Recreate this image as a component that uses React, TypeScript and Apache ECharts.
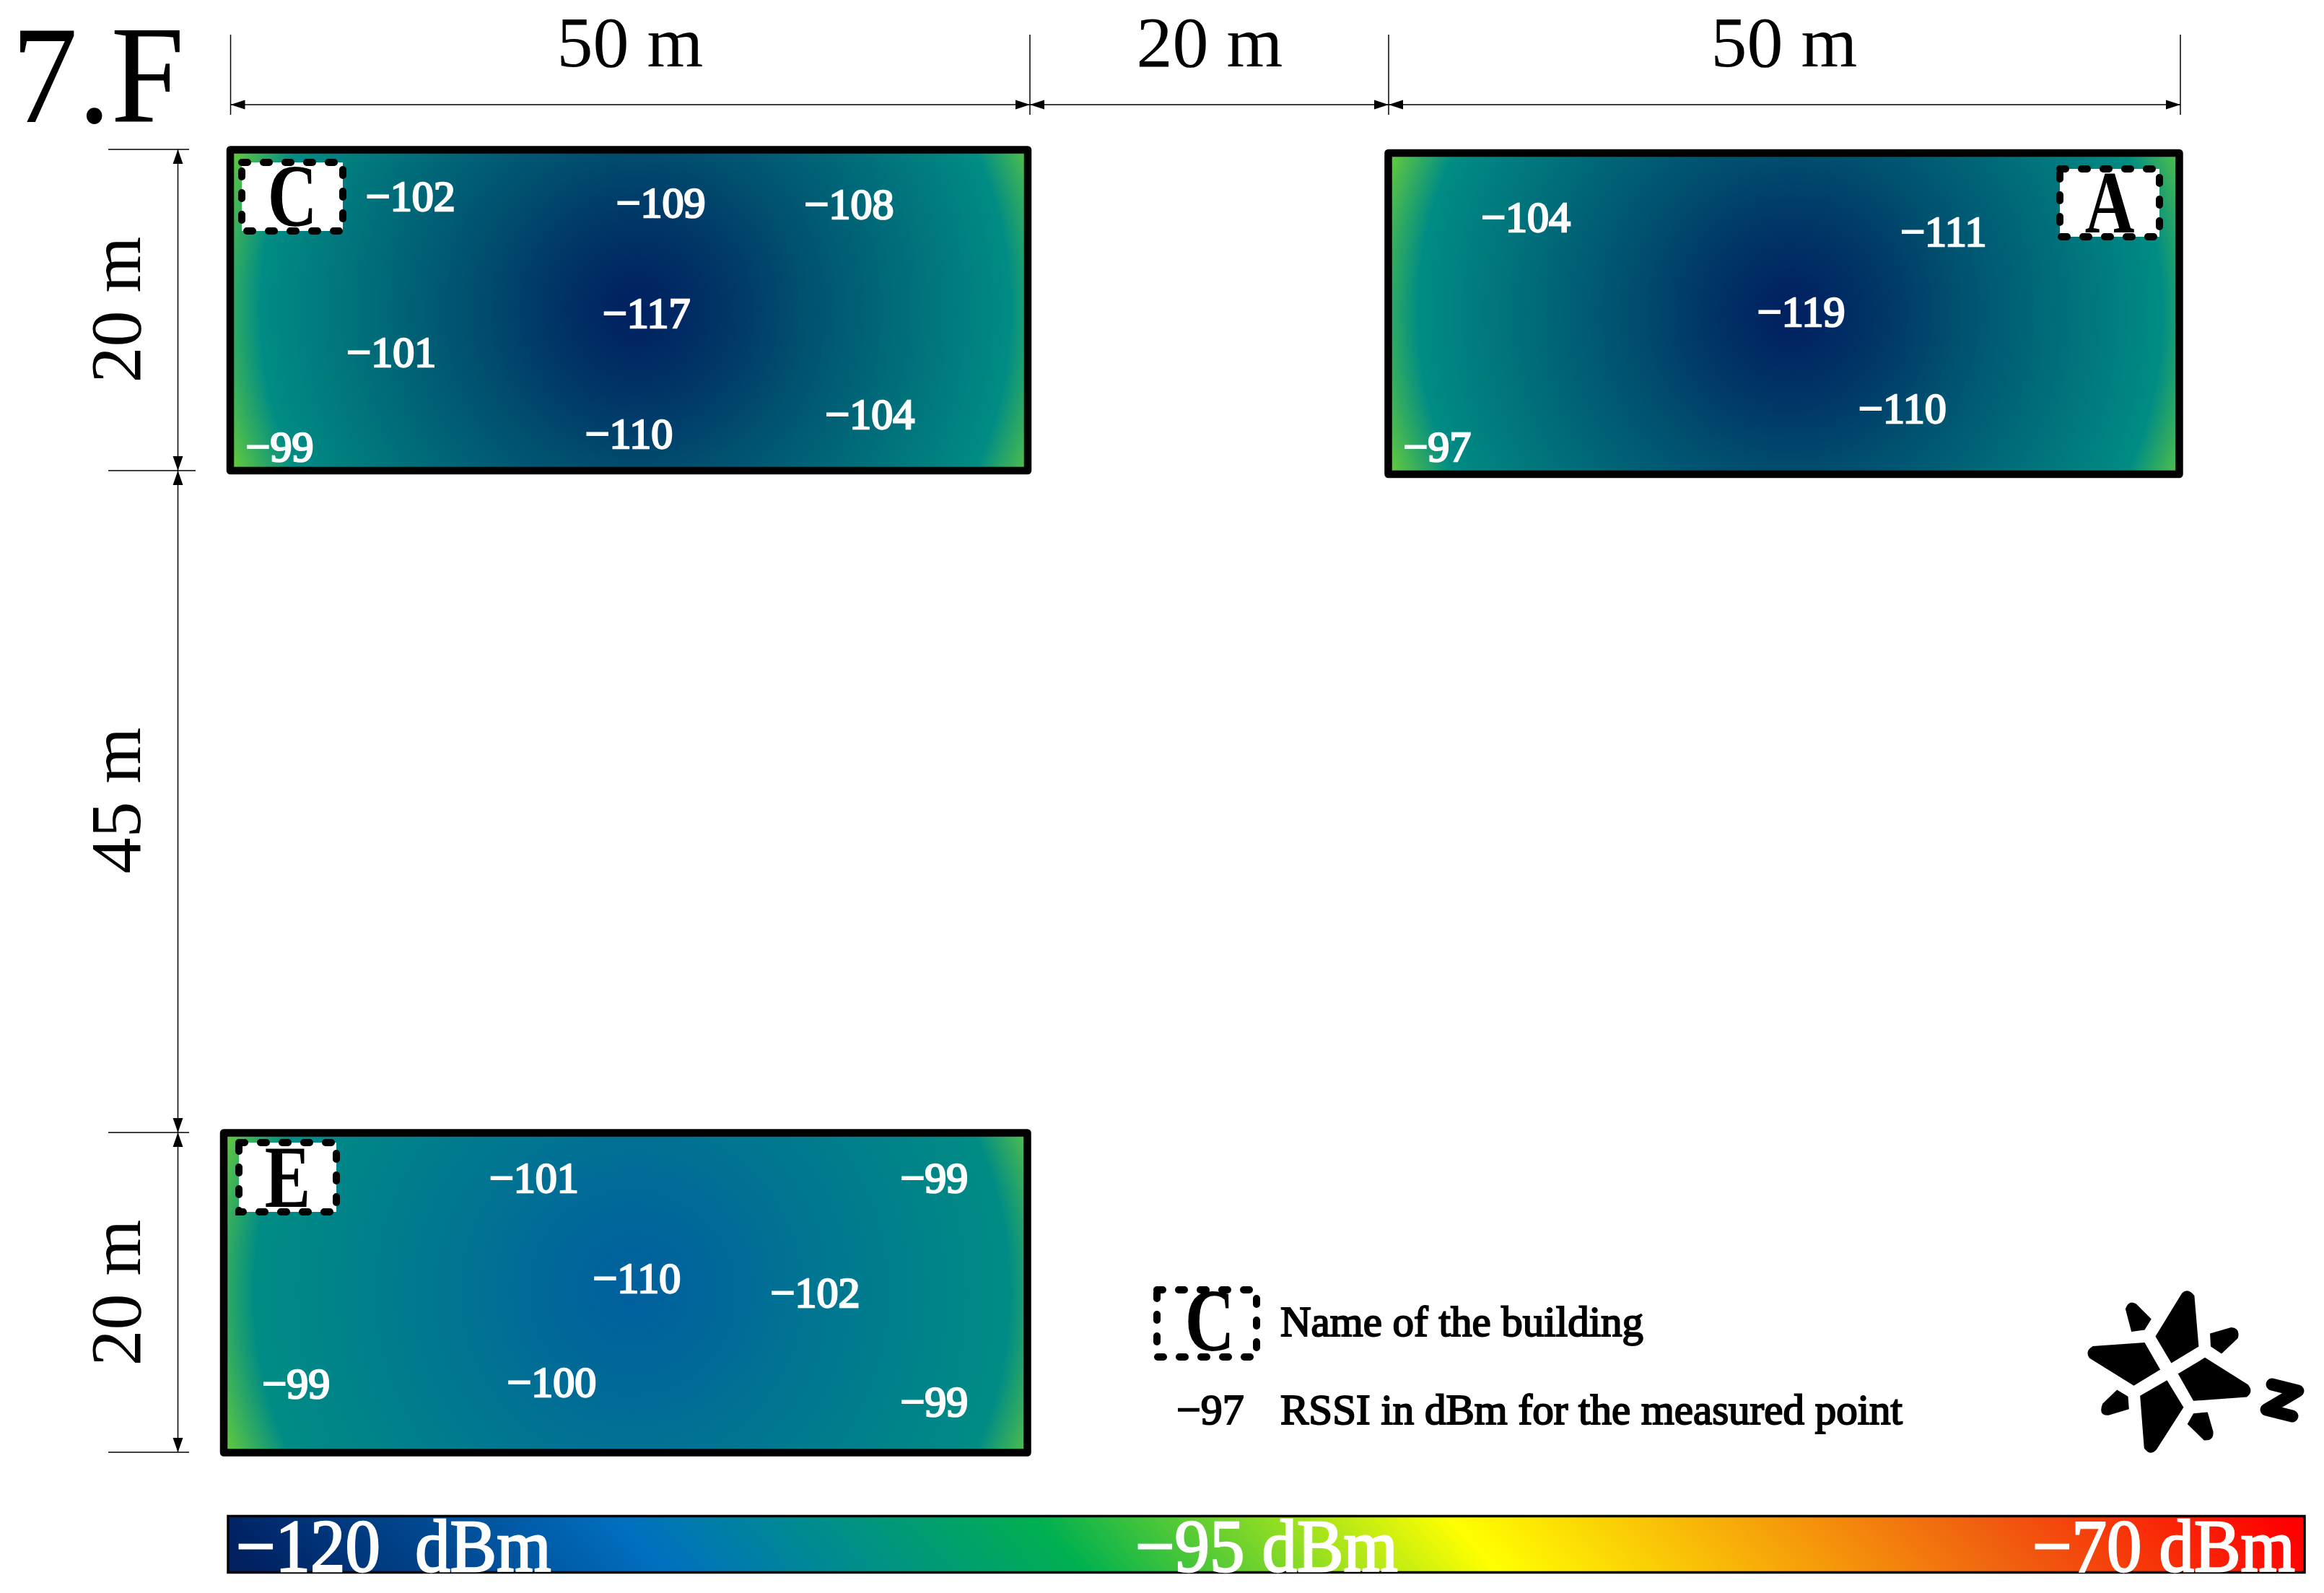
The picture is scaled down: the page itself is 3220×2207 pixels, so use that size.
import React, { useEffect, useRef } from "react";
import * as echarts from "echarts";

// ---- data (metres within each 50 m x 20 m building, RSSI in dBm) ----
const pointsC = [
  [11.3, 17.1, -102], [27.0, 16.7, -109], [38.8, 16.6, -108], [26.1, 9.8, -117],
  [10.1, 7.4, -101], [25.0, 2.3, -110], [40.1, 3.5, -104], [3.1, 1.5, -99],
];
const pointsA = [
  [8.7, 16.0, -104], [35.1, 15.1, -111], [26.1, 10.1, -119], [32.5, 4.1, -110], [3.1, 1.7, -97],
];
const pointsE = [
  [19.3, 17.2, -101], [44.2, 17.2, -99], [25.7, 10.9, -110], [36.8, 10.0, -102],
  [4.5, 4.3, -99], [20.4, 4.4, -100], [44.2, 3.2, -99],
];
const buildingNames = ["C", "A", "E"];
const widthLabels = ["50 m", "20 m", "50 m"];
const depthLabels = ["20 m", "45 m", "20 m"];
const scaleLabels = ["−120\u00A0\u00A0dBm", "−95 dBm", "−70 dBm"];
const legendLabels = ["Name of the building", "RSSI in dBm for the measured point"];

const FONT = "Liberation Serif";
const NAVY = "#002060";
const MIDBLUE = "#00609E";
const TEAL = "#008C84";
const GREEN = "#60C840";

const COMPASS_D =
  "M620 305 L730 125 Q755 100 782 135 L800 347 L686 416 Z " +
  "M575 330 L640 443 L530 510 L345 395 Q325 365 360 345 Z " +
  "M668 487 L737 600 L625 775 Q600 805 573 770 L556 552 Z " +
  "M826 393 L1005 505 Q1030 535 1000 557 L778 573 L714 460 Z " +
  "M495 190 Q510 150 540 170 L603 233 L575 278 L520 285 Z " +
  "M847 293 L935 267 Q975 270 963 312 L895 377 L850 347 Z " +
  "M460 527 L506 555 L510 607 L425 633 Q380 635 400 585 Z " +
  "M778 625 L837 620 L860 700 Q865 740 822 737 L753 670 Z";
echarts.graphic.registerShape("compass", echarts.graphic.extendPath(COMPASS_D, {}));

const Z_TOP = 100;
const thin = { stroke: "#000", lineWidth: 1.5 };

function line(x1: number, y1: number, x2: number, y2: number, lw = 1.5) {
  return { type: "line", z: Z_TOP, shape: { x1, y1, x2, y2 }, style: { ...thin, lineWidth: lw } };
}
function tri(points: number[][]) {
  return { type: "polygon", z: Z_TOP, shape: { points }, style: { fill: "#000" } };
}
function hDim(x0: number, x1: number, y: number) {
  const L = 20, H = 6.5;
  return [
    line(x0, y, x1, y),
    tri([[x0, y], [x0 + L, y - H], [x0 + L, y + H]]),
    tri([[x1, y], [x1 - L, y - H], [x1 - L, y + H]]),
  ];
}
function vDim(y0: number, y1: number, x: number) {
  const L = 20, H = 7;
  return [
    line(x, y0, x, y1),
    tri([[x, y0], [x - H, y0 + L], [x + H, y0 + L]]),
    tri([[x, y1], [x - H, y1 - L], [x + H, y1 - L]]),
  ];
}
// central text
function txt(text: string, x: number, y: number, size: number, extra: any = {}, style: any = {}) {
  return {
    type: "text", z: Z_TOP + 1, x, y, ...extra,
    style: {
      text, fill: style.fill || "#000", font: `${style.weight || "normal"} ${size}px "${FONT}"`,
      textAlign: style.align || "center", textVerticalAlign: "middle",
      ...(style.stroke ? { stroke: style.stroke, lineWidth: style.lw || 1 } : {}),
    },
  };
}
// text placed by its baseline
function baseTxt(text: string, x: number, baseline: number, size: number, extra: any = {}, style: any = {}) {
  return txt(text, x, baseline - 0.3375 * size, size, extra, { align: "left", ...style });
}
function nameBox(name: string, x0: number, y0: number, x1: number, y1: number, dx = 0, dy = 0) {
  return [
    {
      type: "rect", z: Z_TOP, shape: { x: x0, y: y0, width: x1 - x0, height: y1 - y0 },
      style: { fill: "#fff", stroke: "#000", lineWidth: 10, lineDash: [8, 22], lineCap: "round" },
    },
    txt(name, (x0 + x1) / 2 + dx, (y0 + y1) / 2 + dy, 122, { scaleX: 0.78 }, { weight: "bold" }),
  ];
}

const grids = [
  { left: 319, top: 207.5, width: 1105, height: 444.5 },
  { left: 1923.5, top: 212, width: 1096, height: 445 },
  { left: 310, top: 1569.5, width: 1113.5, height: 443 },
];

function heatSeries(gridIndex: number, data: number[][], coreColor: string) {
  const minPoint = data.reduce((a, b) => (b[2] < a[2] ? b : a));
  const base = new echarts.graphic.RadialGradient(0.5, 0.5, 0.5, [
    { offset: 0, color: coreColor },
    { offset: 0.81, color: TEAL },
    { offset: 0.93, color: GREEN },
    { offset: 1, color: GREEN },
  ]);
  const core = new echarts.graphic.RadialGradient(0.5, 0.5, 0.5, [
    { offset: 0, color: coreColor },
    { offset: 1, color: coreColor + "00" },
  ]);
  return {
    type: "custom", xAxisIndex: gridIndex, yAxisIndex: gridIndex, coordinateSystem: "cartesian2d",
    clip: true, silent: true, z: 2,
    data: [[25.4, 10, minPoint[0], minPoint[1]]],
    encode: { x: 0, y: 1 },
    renderItem: (_p: any, api: any) => {
      const c = api.coord([api.value(0), api.value(1)]);
      const k = api.coord([api.value(2), api.value(3)]);
      const R = api.size([29, 0])[0];
      const r = api.size([10, 0])[0];
      return {
        type: "group",
        children: [
          { type: "rect", shape: { x: c[0] - R, y: c[1] - R, width: 2 * R, height: 2 * R }, style: { fill: base } },
          { type: "rect", shape: { x: k[0] - r, y: k[1] - r, width: 2 * r, height: 2 * r }, style: { fill: core, opacity: 0.3 } },
        ],
      };
    },
  };
}
function frameSeries(gridIndex: number) {
  return {
    type: "custom", xAxisIndex: gridIndex, yAxisIndex: gridIndex, coordinateSystem: "cartesian2d",
    clip: false, silent: true, z: 4,
    data: [[0, 20]],
    encode: { x: 0, y: 1 },
    renderItem: (_p: any, api: any) => {
      const c = api.coord([api.value(0), api.value(1)]);
      const s = api.size([50, 20]);
      return {
        type: "rect", shape: { x: c[0], y: c[1], width: s[0], height: s[1] },
        style: { fill: "none", stroke: "#000", lineWidth: 10.5, lineJoin: "round" },
      };
    },
  };
}
function pointSeries(gridIndex: number, data: number[][]) {
  return {
    type: "scatter", xAxisIndex: gridIndex, yAxisIndex: gridIndex, z: 6, silent: true,
    symbolSize: 1, itemStyle: { color: "transparent", opacity: 1 }, data,
    label: {
      show: true, position: "inside", offset: [0, -2], color: "#fff", fontFamily: FONT, fontSize: 60, fontWeight: "normal",
      textBorderColor: "#fff", textBorderWidth: 2.5, opacity: 1,
      formatter: (p: any) => "−" + Math.abs(p.value[2]),
    },
    labelLayout: { hideOverlap: false },
  };
}

function buildOption() {
  const graphic: any[] = [];
  // floor label
  graphic.push(baseTxt("7.F", 16, 169, 193, { scaleX: 0.95 }));
  // horizontal dimensions
  graphic.push(...hDim(319.5, 1427, 145), ...hDim(1427, 1924, 145), ...hDim(1924, 3021, 145));
  [319.5, 1427, 1924, 3021].forEach((x) => graphic.push(line(x, 48, x, 159)));
  graphic.push(txt(widthLabels[0], 873, 58, 100), txt(widthLabels[1], 1676, 58, 100), txt(widthLabels[2], 2472, 58, 100));
  // vertical dimensions
  graphic.push(...vDim(207, 652, 246.5), ...vDim(652, 1569, 246.5), ...vDim(1569, 2012, 246.5));
  graphic.push(line(150, 207, 262, 207), line(150, 652, 271, 652), line(150, 1569, 262, 1569), line(150, 2012, 262, 2012));
  const rot = { rotation: Math.PI / 2 };
  graphic.push(txt(depthLabels[0], 160, 429, 100, rot), txt(depthLabels[1], 160, 1109, 100, rot), txt(depthLabels[2], 160, 1791, 100, rot));
  // building names
  graphic.push(...nameBox(buildingNames[0], 335, 225, 475, 320));
  graphic.push(...nameBox(buildingNames[1], 2854, 234, 2992, 328));
  graphic.push(...nameBox(buildingNames[2], 331, 1583, 466, 1679));
  // legend
  graphic.push(...nameBox("C", 1603, 1787, 1741, 1880, 4, -3));
  const heavy = { stroke: "#000", lw: 2 };
  graphic.push(baseTxt(legendLabels[0], 1774, 1851, 59, {}, heavy));
  graphic.push(baseTxt(legendLabels[1], 1774, 1973, 59, {}, heavy));
  graphic.push(baseTxt("−97", 1630, 1973, 60, {}, heavy));
  // compass
  graphic.push({
    type: "compass", z: Z_TOP, x: 2780, y: 1750, scaleX: 1 / 3, scaleY: 1 / 3, style: { fill: "#000" },
  });
  graphic.push({
    type: "polyline", z: Z_TOP,
    shape: { points: [[3148, 1918], [3184, 1927], [3140, 1953], [3176, 1962]] },
    style: { fill: "none", stroke: "#000", lineWidth: 17, lineCap: "round", lineJoin: "round" },
  });
  // colour bar
  graphic.push({
    type: "rect", z: Z_TOP, shape: { x: 316, y: 2100.5, width: 2877, height: 78 },
    style: {
      stroke: "#000", lineWidth: 3.5,
      fill: new echarts.graphic.LinearGradient(0, 0.512, 1, 0.488, [
        { offset: 0, color: "#002060" }, { offset: 0.2, color: "#0070C0" },
        { offset: 0.4, color: "#00B050" }, { offset: 0.6, color: "#FFFF00" },
        { offset: 0.85, color: "#F06010" }, { offset: 1, color: "#FF0000" },
      ]),
    },
  });
  const white = { fill: "#fff", stroke: "#fff", lw: 2.5 };
  const squeeze = { scaleX: 0.94 };
  graphic.push(baseTxt(scaleLabels[0], 327, 2177, 103, squeeze, white));
  graphic.push(baseTxt(scaleLabels[1], 1573, 2177, 103, squeeze, white));
  graphic.push(baseTxt(scaleLabels[2], 2816, 2177, 103, squeeze, white));

  const axes = grids.map((_, i) => i);
  return {
    animation: false,
    backgroundColor: "#fff",
    grid: grids.map((g) => ({ ...g, containLabel: false })),
    xAxis: axes.map((i) => ({ type: "value", gridIndex: i, min: 0, max: 50, show: false })),
    yAxis: axes.map((i) => ({ type: "value", gridIndex: i, min: 0, max: 20, show: false })),
    graphic: { elements: graphic },
    series: [
      heatSeries(0, pointsC, NAVY), frameSeries(0), pointSeries(0, pointsC),
      heatSeries(1, pointsA, NAVY), frameSeries(1), pointSeries(1, pointsA),
      heatSeries(2, pointsE, MIDBLUE), frameSeries(2), pointSeries(2, pointsE),
    ],
  };
}

export default function App() {
  const ref = useRef<HTMLDivElement>(null);
  useEffect(() => {
    document.body.style.margin = "0";
    const chart = echarts.init(ref.current!, undefined, { renderer: "svg" });
    chart.setOption(buildOption() as any);
    return () => chart.dispose();
  }, []);
  return <div ref={ref} style={{ width: 3220, height: 2207 }} />;
}
